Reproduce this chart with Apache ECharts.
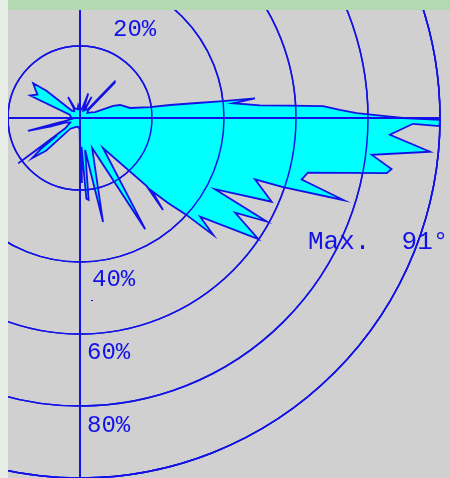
<!DOCTYPE html>
<html>
<head>
<meta charset="utf-8">
<script src="https://cdn.jsdelivr.net/npm/echarts@6/dist/echarts.min.js"></script>
<style>
html,body{margin:0;padding:0;background:#d0d0d0;}
#chart{width:450px;height:478px;}
</style>
</head>
<body>
<div id="chart"></div>
<script>
// Compass direction (degrees, 0 = N, clockwise) of each vertex of the rose outline
var directions = [0, 8, 14, 18.6, 22, 27, 28.8, 31, 38, 42.5, 43.5, 44.5, 46.5, 55, 63, 69, 70, 72, 78.7, 81.1,
  81.8, 82.7, 83.2, 83.6, 84.5, 86, 86.6, 87.2, 88.2, 89, 89.6, 90, 90.3, 91.3, 91, 93.1, 95.5, 97.2, 99.3, 100.2,
  103.5, 105.5, 107.3, 108.8, 109.3, 113.6, 117.8, 119, 121.4, 124.2, 129.4, 131.3, 132.4, 134, 135.4, 137.9, 135.6, 142.5, 149.6, 158,
  167.5, 171, 174, 175.5, 177, 178.3, 179.5, 182, 195, 210, 222, 226, 230, 231.5, 233, 233.7, 235, 245, 252, 254,
  253.5, 256, 258, 265, 275, 288, 294.2, 299, 302, 306.6, 309, 312, 320, 328, 330.3, 332.5, 345, 352, 360];
// Relative frequency (%) at each vertex
var percents = [2, 2.5, 3, 7.2, 2.5, 3, 6.7, 2.5, 3, 3.5, 14, 13.8, 3, 2.5, 3.5, 4.5, 9.8, 11.7, 14.2, 19.7,
  25.3, 32.8, 39.1, 48.9, 42.7, 50.1, 58.4, 67.6, 72.2, 76.9, 84.2, 89.7, 100, 99.8, 92.5, 86.2, 97.7, 81.7, 87.7, 86.6,
  65.1, 63.9, 76.8, 59.6, 51.5, 58.1, 42.4, 59.3, 50.5, 59.9, 43.2, 49.3, 39.5, 34, 28.5, 34.4, 26.5, 10.5, 35.8, 9,
  29.6, 9, 22.9, 22.5, 8, 17.8, 17.8, 3, 2.5, 3, 4, 13, 17.4, 14, 8, 21.3, 5, 3, 4, 9,
  8, 14.9, 5, 2, 2.5, 3, 15.2, 13.5, 14.5, 16.2, 12, 3, 2.5, 3.5, 6.7, 3, 2.5, 3.5, 2];
var ringValues = [20, 40, 60, 80, 100];
var spokeAngles = [0, 90, 180, 270];
var ringLabels = ['20%', '40%', '60%', '80%'];
var maxLabel = 'Max.  91\u00b0';

var BLUE = '#1212e6';
var chart = echarts.init(document.getElementById('chart'), null, {renderer: 'canvas'});
var data = [];
for (var i = 0; i < directions.length; i++) data.push([percents[i], directions[i]]);

chart.setOption({
  backgroundColor: '#d0d0d0',
  animation: false,
  polar: {center: [80, 118], radius: 360},
  angleAxis: {
    type: 'value', min: 0, max: 360, interval: 90, startAngle: 90, clockwise: true,
    axisLine: {show: true, lineStyle: {color: BLUE, width: 1.5}},
    axisTick: {show: false}, axisLabel: {show: false},
    splitLine: {show: true, lineStyle: {color: BLUE, width: 2}}
  },
  radiusAxis: {
    type: 'value', min: 0, max: 100, interval: 20,
    axisLine: {show: false}, axisTick: {show: false}, axisLabel: {show: false},
    splitLine: {show: true, lineStyle: {color: BLUE, width: 1.5}}
  },
  series: [{
    type: 'custom', coordinateSystem: 'polar', data: data, z: 1, silent: true,
    renderItem: function (params, api) {
      if (params.dataIndex !== 0) return null;
      var pts = data.map(function (d) { return api.coord(d); });
      return {type: 'polygon', shape: {points: pts},
        style: {fill: '#00ffff', stroke: BLUE, lineWidth: 1.8, lineJoin: 'miter'}};
    }
  }]
});

// Grid rings and spokes overlaid on top of the filled rose, positioned through the polar scales
var c = chart.convertToPixel({polarIndex: 0}, [0, 0]);
var graphics = [];
ringValues.forEach(function (v, k) {
  var p = chart.convertToPixel({polarIndex: 0}, [v, 0]);
  var r = Math.sqrt(Math.pow(p[0] - c[0], 2) + Math.pow(p[1] - c[1], 2));
  graphics.push({type: 'circle', id: 'ring' + k, z: 50, silent: true,
    shape: {cx: c[0], cy: c[1], r: r}, style: {fill: null, stroke: BLUE, lineWidth: 1.5}});
});
spokeAngles.forEach(function (a, k) {
  var p = chart.convertToPixel({polarIndex: 0}, [100, a]);
  graphics.push({type: 'line', id: 'spoke' + k, z: 50, silent: true,
    shape: {x1: c[0], y1: c[1], x2: p[0], y2: p[1]}, style: {stroke: BLUE, lineWidth: 2}});
});
var labelPos = [[113, 30], [92, 280], [87, 352.5], [87, 426]];
graphics.push(
  {type: 'rect', id: 'leftStrip', z: 100, shape: {x: 0, y: 0, width: 8, height: 478}, style: {fill: '#e6ece6'}},
  {type: 'rect', id: 'topBand', z: 100, shape: {x: 8, y: 0, width: 442, height: 10}, style: {fill: '#b3d9b3'}},
  {type: 'rect', id: 'dot', z: 100, shape: {x: 91, y: 300, width: 2, height: 1}, style: {fill: BLUE}},
  {type: 'text', id: 'maxText', z: 100, style: {text: maxLabel, x: 308, y: 242.5, fill: BLUE,
     font: '26px "Liberation Mono", monospace', textAlign: 'left', textVerticalAlign: 'middle'}}
);
ringLabels.forEach(function (t, k) {
  graphics.push({type: 'text', id: 'lab' + k, z: 100, style: {text: t, x: labelPos[k][0], y: labelPos[k][1], fill: BLUE,
    font: '24px "Liberation Mono", monospace', textAlign: 'left', textVerticalAlign: 'middle'}});
});
chart.setOption({graphic: graphics});
</script>
</body>
</html>
